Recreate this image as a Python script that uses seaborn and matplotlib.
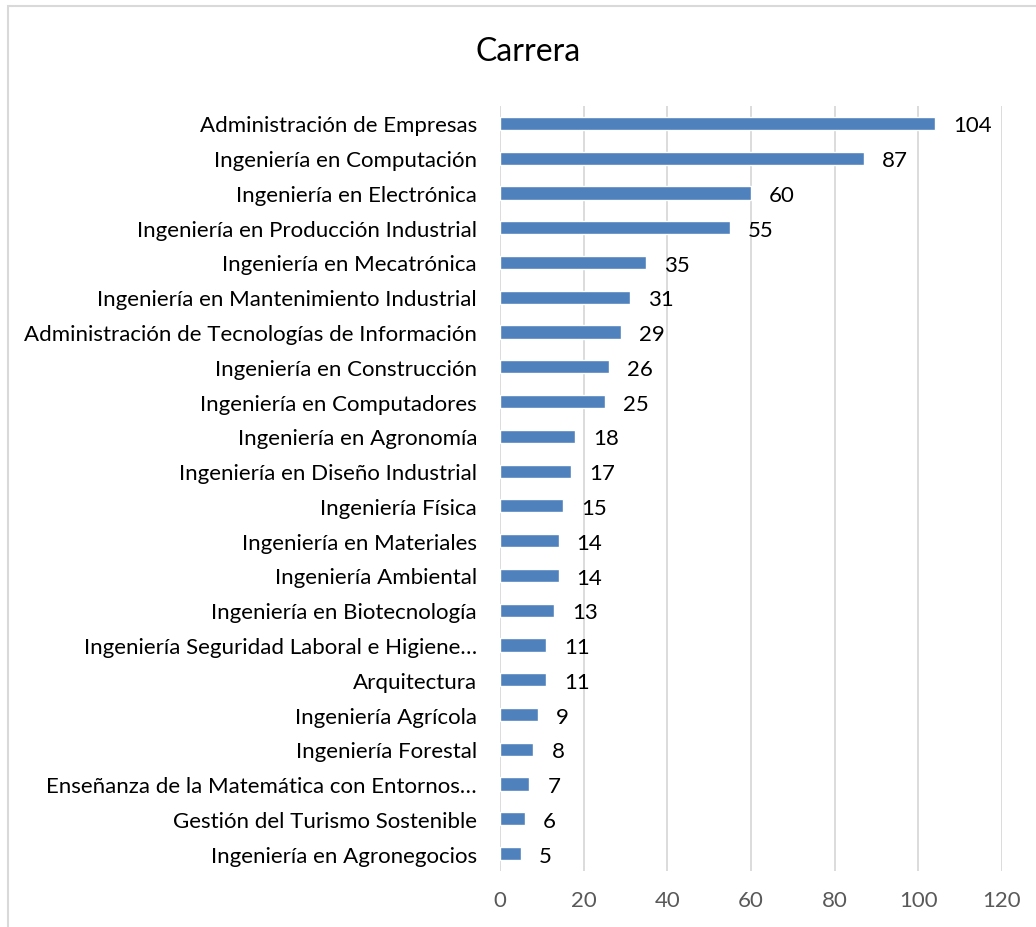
import matplotlib
matplotlib.use("Agg")
import matplotlib.pyplot as plt
import matplotlib.patches as mpatches
import seaborn as sns
import pandas as pd

categories = [
    "Administración de Empresas",
    "Ingeniería en Computación",
    "Ingeniería en Electrónica",
    "Ingeniería en Producción Industrial",
    "Ingeniería en Mecatrónica",
    "Ingeniería en Mantenimiento Industrial",
    "Administración de Tecnologías de Información",
    "Ingeniería en Construcción",
    "Ingeniería en Computadores",
    "Ingeniería en Agronomía",
    "Ingeniería en Diseño Industrial",
    "Ingeniería Física",
    "Ingeniería en Materiales",
    "Ingeniería Ambiental",
    "Ingeniería en Biotecnología",
    "Ingeniería Seguridad Laboral e Higiene…",
    "Arquitectura",
    "Ingeniería Agrícola",
    "Ingeniería Forestal",
    "Enseñanza de la Matemática con Entornos…",
    "Gestión del Turismo Sostenible",
    "Ingeniería en Agronegocios",
]
values = [104, 87, 60, 55, 35, 31, 29, 26, 25, 18, 17, 15, 14, 14, 13, 11, 11, 9, 8, 7, 6, 5]
x_ticks = [0, 20, 40, 60, 80, 100, 120]
title = "Carrera"

df = pd.DataFrame({"Carrera": categories, "Cantidad": values})

sns.set_theme(style="white")
plt.rcParams["font.family"] = ["Lato", "DejaVu Sans"]

FS = 16

fig = plt.figure(figsize=(10.36, 9.28), dpi=100)
ax = fig.add_axes([500/1036, 1 - 872/928, (1002 - 500)/1036, (872 - 107)/928])

sns.barplot(data=df, x="Cantidad", y="Carrera", orient="h", color="#4F81BD",
            saturation=1, width=0.38, ax=ax)

ax.set_xlim(0, 120)
ax.set_xticks(x_ticks)
ax.set_xticklabels([str(t) for t in x_ticks], fontsize=FS, color="#595959")
ax.tick_params(axis="x", length=0, pad=14)
ax.tick_params(axis="y", length=0, pad=16.5, labelsize=FS, labelcolor="#000000")
ax.set_xlabel("")
ax.set_ylabel("")
for s in ax.spines.values():
    s.set_visible(False)
ax.grid(axis="x", color="#D9D9D9", linewidth=1.3)
ax.set_axisbelow(True)

for c in ax.containers:
    anns = ax.bar_label(c, labels=[str(v) for v in values], padding=13, fontsize=FS, color="#000000")
    for a in anns:
        a.xyann = (13, -1.5)

fig.text(528/1036, 1 - 52/928, title, ha="center", va="center", fontsize=23, color="#000000")

border = mpatches.Rectangle((8/1036, -0.1), 1.2, 1 - 7/928 + 0.1, transform=fig.transFigure,
                            fill=False, edgecolor="#D9D9D9", linewidth=1.5)
fig.patches.append(border)

fig.savefig("out.png", dpi=100, facecolor="white")
